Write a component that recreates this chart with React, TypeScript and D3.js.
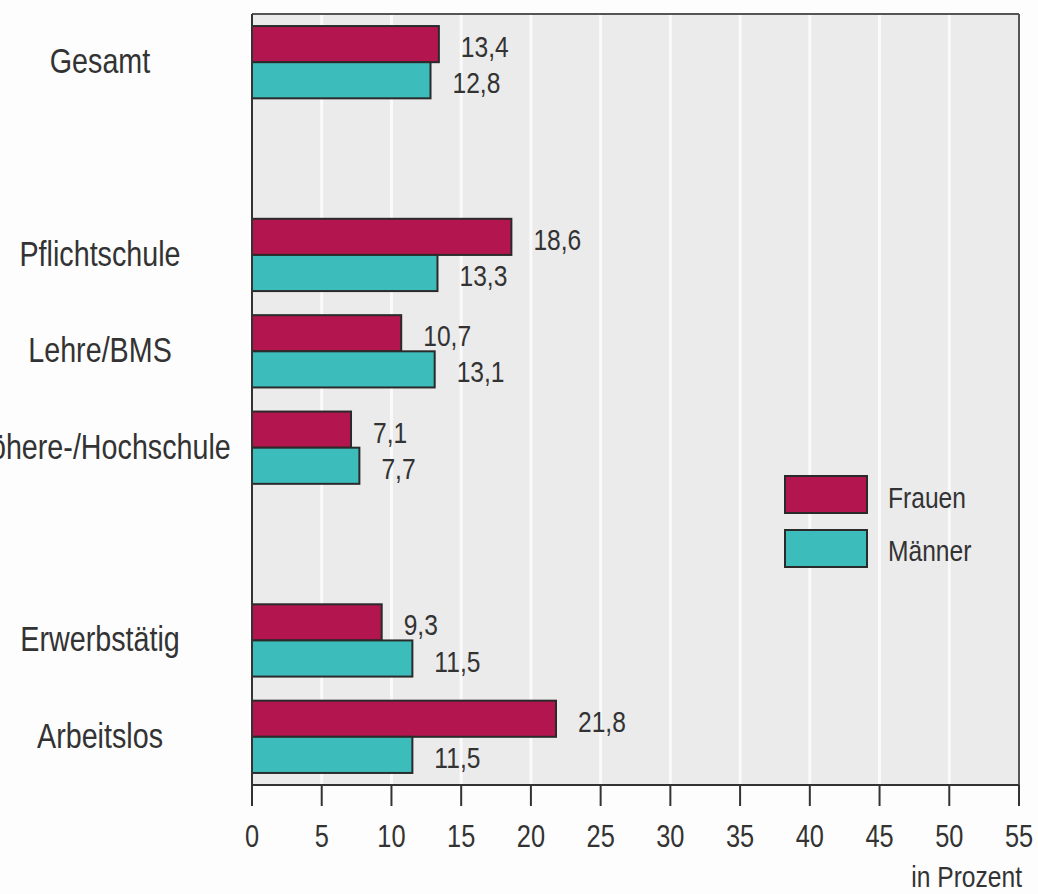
import React from "react";
import * as d3 from "d3";

// Anteile in Prozent nach Gruppe
const groups = ["Gesamt", "Pflichtschule", "Lehre/BMS", "Höhere-/Hochschule", "Erwerbstätig", "Arbeitslos"];
const frauen = [13.4, 18.6, 10.7, 7.1, 9.3, 21.8];
const maenner = [12.8, 13.3, 13.1, 7.7, 11.5, 11.5];
// Zeilenfolge inklusive Leerzeilen zwischen den Blöcken
const rows = ["Gesamt", "_gap1", "Pflichtschule", "Lehre/BMS", "Höhere-/Hochschule", "_gap2", "Erwerbstätig", "Arbeitslos"];
const xTicks = [0, 5, 10, 15, 20, 25, 30, 35, 40, 45, 50, 55];
const seriesNames = ["Frauen", "Männer"];

const W = 1038;
const H = 894;
const plot = { left: 252, right: 1019, top: 14, bottom: 785 };
const colors = { Frauen: "#b3164f", Männer: "#3cbdbb" };
const ink = "#333333";
const FONT = "'Liberation Sans', Arial, sans-serif";
const SX = 0.82; // condensed lettering

const fmt = (v: number) => v.toFixed(1).replace(".", ",");

function T({ x, y, size, anchor = "start", children }: any) {
  return (
    <text
      transform={`translate(${x},${y}) scale(${SX},1)`}
      fontFamily={FONT}
      fontSize={size}
      fill={ink}
      textAnchor={anchor}
    >
      {children}
    </text>
  );
}

export default function App() {
  const x = d3.scaleLinear().domain([0, 55]).range([plot.left, plot.right]);
  const y = d3
    .scaleBand<string>()
    .domain(rows)
    .range([plot.top, plot.bottom])
    .paddingInner(0.25)
    .paddingOuter(0.125);
  const bw = y.bandwidth();
  const half = bw / 2;

  return (
    <svg
      width={W}
      height={H}
      style={{ position: "absolute", left: 0, top: 0, background: "#fdfdfd" }}
    >
      {/* Plotfläche */}
      <rect
        x={plot.left}
        y={plot.top}
        width={plot.right - plot.left}
        height={plot.bottom - plot.top}
        fill="#ebebeb"
      />
      {/* Gitterlinien */}
      {xTicks.slice(1, -1).map((t) => (
        <line key={t} x1={x(t)} x2={x(t)} y1={plot.top} y2={plot.bottom} stroke="#fafafa" strokeWidth={3} />
      ))}
      {/* Rahmen */}
      <line x1={plot.left} x2={plot.right} y1={plot.top} y2={plot.top} stroke="#555" strokeWidth={2} />
      <line x1={plot.right} x2={plot.right} y1={plot.top} y2={plot.bottom} stroke="#555" strokeWidth={2} />

      {/* Balken */}
      {groups.map((g, i) => {
        const y0 = y(g) as number;
        const vals = [frauen[i], maenner[i]];
        return (
          <g key={g}>
            {vals.map((v, j) => {
              const name = seriesNames[j] as "Frauen" | "Männer";
              const by = y0 + j * half;
              return (
                <g key={name}>
                  <rect
                    x={x(0)}
                    y={by}
                    width={x(v) - x(0)}
                    height={half}
                    fill={colors[name]}
                    stroke="#2a2a2a"
                    strokeWidth={2}
                  />
                  <T x={x(v) + 22} y={by + half / 2 + 13} size={30}>
                    {fmt(v)}
                  </T>
                </g>
              );
            })}
            <T x={100} y={y0 + half + 11} size={35} anchor="middle">
              {g}
            </T>
          </g>
        );
      })}

      {/* Achsen */}
      <line x1={plot.left} x2={plot.left} y1={plot.top} y2={plot.bottom} stroke="#333" strokeWidth={2} />
      <line x1={plot.left} x2={plot.right} y1={plot.bottom} y2={plot.bottom} stroke="#333" strokeWidth={2} />
      {xTicks.map((t) => (
        <g key={t}>
          <line x1={x(t)} x2={x(t)} y1={plot.bottom} y2={plot.bottom + 21} stroke="#333" strokeWidth={2} />
          <T x={x(t)} y={plot.bottom + 62} size={31} anchor="middle">
            {t}
          </T>
        </g>
      ))}
      <T x={1022} y={887} size={30} anchor="end">
        in Prozent
      </T>

      {/* Legende */}
      {seriesNames.map((name, i) => (
        <g key={name}>
          <rect
            x={785}
            y={476 + i * 54}
            width={82}
            height={37}
            fill={colors[name as "Frauen" | "Männer"]}
            stroke="#2a2a2a"
            strokeWidth={2}
          />
          <T x={888} y={508 + i * 53} size={30}>
            {name}
          </T>
        </g>
      ))}
    </svg>
  );
}
